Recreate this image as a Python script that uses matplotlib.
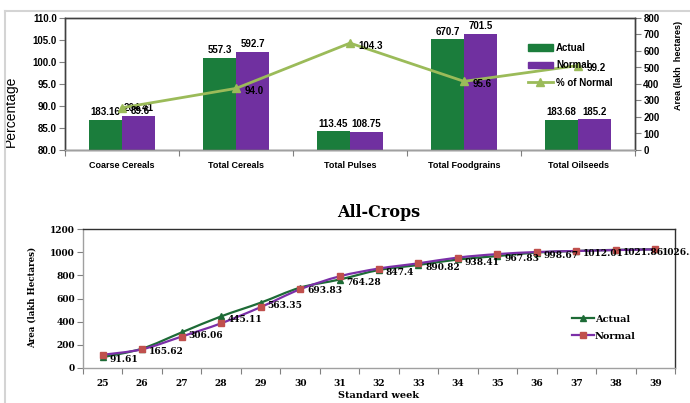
import matplotlib.pyplot as plt
import numpy as np
from matplotlib.lines import Line2D
from matplotlib.patches import Patch, PathPatch
from matplotlib.path import Path

# kharif area coverage by crop group (lakh hectares)
crops = ['Coarse Cereals', 'Total Cereals', 'Total Pulses', 'Total Foodgrains', 'Total Oilseeds']
actual = [183.16, 557.3, 113.45, 670.7, 183.68]
normal = [204.41, 592.7, 108.75, 701.5, 185.2]
pct_normal = [89.6, 94.0, 104.3, 95.6, 99.2]

# all-crops progress by standard week
weeks = [25, 26, 27, 28, 29, 30, 31, 32, 33, 34, 35, 36, 37, 38, 39]
actual_wk = [91.61, 165.62, 306.06, 445.11, 563.35, 693.83, 764.28, 847.4,
             890.82, 938.41, 967.83, 998.67, 1012.01, 1021.86, 1026.23]
normal_wk = [112, 160, 270, 385, 525, 680, 792, 860, 905, 955, 985, 1003,
             1012, 1020, 1026]

GREEN = '#1b7d3c'
PURPLE = '#7030a0'
OLIVE = '#9bbb59'
SANS = ['Liberation Sans', 'DejaVu Sans']
NARROW = ['Liberation Sans Narrow', 'Liberation Sans', 'DejaVu Sans']
SERIF = ['DejaVu Serif']


def smooth_path(xs, ys, t=1 / 6):
    # cubic bezier through every point, like a spreadsheet "smoothed line"
    pts = np.column_stack([xs, ys]).astype(float)
    verts = [pts[0]]
    codes = [Path.MOVETO]
    n = len(pts)
    for i in range(n - 1):
        p0 = pts[max(i - 1, 0)]
        p1 = pts[i]
        p2 = pts[i + 1]
        p3 = pts[min(i + 2, n - 1)]
        c1 = p1 + (p2 - p0) * t
        c2 = p2 - (p3 - p1) * t
        verts += [c1, c2, p2]
        codes += [Path.CURVE4] * 3
    return Path(verts, codes)


fig = plt.figure(figsize=(6.9, 4.03), dpi=100)

# light frame around the chart block
fig.add_artist(Line2D([5 / 690, 5 / 690], [0, 1 - 11 / 403], color='#d4d4d4', lw=1.5))
fig.add_artist(Line2D([5 / 690, 1], [1 - 11 / 403, 1 - 11 / 403], color='#d4d4d4', lw=1.5))

# ---------------- top: bars (area) + % of normal line ----------------
ax2 = fig.add_axes([65 / 690, 1 - 150 / 403, 570 / 690, 132 / 403])
ax = ax2.twinx()
ax.yaxis.tick_left()
ax.yaxis.set_label_position('left')
ax2.yaxis.tick_right()
ax2.yaxis.set_label_position('right')

x = np.arange(len(crops))
w = 0.29
ax2.bar(x - w / 2, actual, w, color=GREEN, label='Actual')
ax2.bar(x + w / 2, normal, w, color=PURPLE, label='Normal')
ax2.set_ylim(0, 800)
ax2.set_yticks(np.arange(0, 801, 100))
ax2.set_xlim(-0.5, len(crops) - 0.5)

for xi, v in zip(x - w / 2, actual):
    ax2.annotate(f'{v:g}', (xi, v), xytext=(0, 2), textcoords='offset points',
                 ha='center', va='bottom', fontsize=7, fontweight='bold', family=SANS)
for xi, v in zip(x + w / 2, normal):
    ax2.annotate(f'{v:g}', (xi, v), xytext=(0, 2), textcoords='offset points',
                 ha='center', va='bottom', fontsize=7, fontweight='bold', family=SANS)

ln, = ax.plot(x, pct_normal, color=OLIVE, lw=2, marker='^', ms=6, label='% of Normal')
ax.set_ylim(80, 110)
ax.set_yticks(np.arange(80, 110.1, 5))
ax.set_yticklabels([f'{v:.1f}' for v in np.arange(80, 110.1, 5)])
for xi, v in zip(x, pct_normal):
    ax.annotate(f'{v:.1f}', (xi, v), xytext=(6, -2), textcoords='offset points',
                ha='left', va='center', fontsize=7, fontweight='bold', family=SANS)

# category labels centred, tick marks between categories
ax2.set_xticks(np.arange(-0.5, len(crops), 1.0))
ax2.set_xticklabels([])
ax2.set_xticks(x, minor=True)
ax2.set_xticklabels(crops, minor=True, fontsize=6.5, fontweight='bold', family=NARROW)
ax2.tick_params(axis='x', which='major', length=4, color='#808080')
ax2.tick_params(axis='x', which='minor', length=0, pad=8)

for a in (ax, ax2):
    for lab in a.get_yticklabels():
        lab.set_fontsize(7)
        lab.set_fontweight('bold')
        lab.set_family(SANS)
    a.tick_params(axis='y', length=4, width=0.8, color='#808080', pad=2)
    for s in a.spines.values():
        s.set_color('#404040')
        s.set_linewidth(1)
ax.spines['bottom'].set_color('#a0a0a0')

ax.set_ylabel('Percentage', fontsize=10, family=SANS)
ax.yaxis.set_label_coords(-0.083, 0.29)
ax2.set_ylabel('Area (lakh  hectares)', fontsize=6.5, fontweight='bold', family=NARROW)
ax2.yaxis.set_label_coords(1.068, 0.64)

ax.legend([Patch(color=GREEN), Patch(color=PURPLE), ln], ['Actual', 'Normal', '% of Normal'],
          loc='upper left', bbox_to_anchor=(0.805, 0.84), frameon=False,
          prop={'family': SANS, 'size': 7, 'weight': 'bold'},
          handlelength=2.6, handleheight=0.6, handletextpad=0.3, labelspacing=0.75,
          borderaxespad=0)

# ---------------- bottom: weekly progress ----------------
bx = fig.add_axes([83 / 690, 1 - 367.7 / 403, 592 / 690, 138.4 / 403])
ACT_LINE = '#1d6b36'
NOR_LINE = '#7b2fa8'
MARK = '#c0504d'

bx.add_patch(PathPatch(smooth_path(weeks, actual_wk), fill=False, edgecolor=ACT_LINE, lw=1.6))
bx.add_patch(PathPatch(smooth_path(weeks, normal_wk), fill=False, edgecolor=NOR_LINE, lw=1.6))
bx.plot(weeks, actual_wk, ls='none', marker='^', ms=4.5, color=ACT_LINE)
bx.plot(weeks, normal_wk, ls='none', marker='s', ms=5, color=MARK)

for wk, v in zip(weeks, actual_wk):
    bx.annotate(f'{v:g}', (wk, v), xytext=(5, -2), textcoords='offset points',
                ha='left', va='center', fontsize=6.5, fontweight='bold', family=SERIF,
                annotation_clip=False)

bx.set_xlim(24.5, 39.5)
bx.set_ylim(0, 1200)
bx.set_yticks(np.arange(0, 1201, 200))
bx.set_xticks(np.arange(24.5, 39.6, 1.0))
bx.set_xticklabels([])
bx.set_xticks(weeks, minor=True)
bx.set_xticklabels([str(wk) for wk in weeks], minor=True,
                   fontsize=6.5, fontweight='bold', family=SERIF)
bx.tick_params(axis='x', which='major', length=4, color='#808080')
bx.tick_params(axis='x', which='minor', length=0, pad=8)
bx.tick_params(axis='y', length=4, color='#808080', pad=2)
for lab in bx.get_yticklabels():
    lab.set_fontsize(6.5)
    lab.set_fontweight('bold')
    lab.set_family(SERIF)
for s in bx.spines.values():
    s.set_color('#303030')
    s.set_linewidth(1)
bx.spines['bottom'].set_color('#a0a0a0')
bx.spines['left'].set_color('#a0a0a0')

bx.set_title('All-Crops', fontsize=11.5, fontweight='bold', family=SERIF, pad=9)
bx.set_xlabel('Standard week', fontsize=7, fontweight='bold', family=SERIF, labelpad=2)
bx.set_ylabel('Area (lakh Hectares)', fontsize=6.2, fontweight='bold', family=SERIF)
bx.yaxis.set_label_coords(-0.078, 0.51)

bx.legend([Line2D([], [], color=ACT_LINE, lw=1.6, marker='^', ms=4.5),
           Line2D([], [], color=NOR_LINE, lw=1.6, marker='s', ms=5, mfc=MARK, mec=MARK)],
          ['Actual', 'Normal'], loc='upper left', bbox_to_anchor=(0.82, 0.41),
          frameon=False, prop={'family': SERIF, 'size': 7, 'weight': 'bold'},
          handlelength=2.2, handletextpad=0.1, labelspacing=0.8, borderaxespad=0)

fig.savefig('out.png', dpi=100)
